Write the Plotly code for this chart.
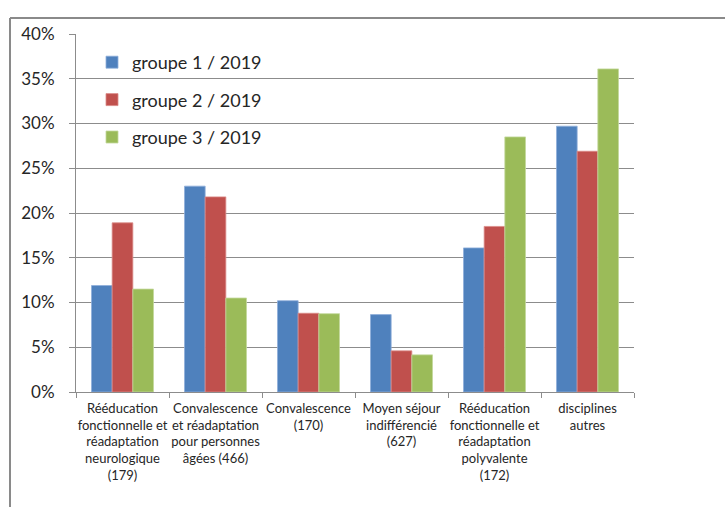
import plotly.graph_objects as go

# Categories (discipline and number of establishments) and their axis labels
categories = [
    "Rééducation fonctionnelle et réadaptation neurologique (179)",
    "Convalescence et réadaptation pour personnes âgées (466)",
    "Convalescence (170)",
    "Moyen séjour indifférencié (627)",
    "Rééducation fonctionnelle et réadaptation polyvalente (172)",
    "disciplines autres",
]
tick_labels = [
    "Rééducation<br>fonctionnelle et<br>réadaptation<br>neurologique<br>(179)",
    "Convalescence<br>et réadaptation<br>pour personnes<br>âgées (466)",
    "Convalescence<br>(170)",
    "Moyen séjour<br>indifférencié<br>(627)",
    "Rééducation<br>fonctionnelle et<br>réadaptation<br>polyvalente<br>(172)",
    "disciplines<br>autres",
]

series_names = ["groupe 1 / 2019", "groupe 2 / 2019", "groupe 3 / 2019"]
groupe1 = [0.119, 0.230, 0.102, 0.0865, 0.161, 0.297]
groupe2 = [0.189, 0.218, 0.088, 0.046, 0.185, 0.269]
groupe3 = [0.115, 0.105, 0.0875, 0.0415, 0.285, 0.361]

y_tick_values = [0.0, 0.05, 0.10, 0.15, 0.20, 0.25, 0.30, 0.35, 0.40]

colors = ["#4F81BD", "#C0504D", "#9BBB59"]
edge_colors = ["#8FAEDB", "#DA8A88", "#C3D89C"]

FONT = "Lato"
W, H = 725, 507
L, R, T, B = 76, 91, 34, 115

fig = go.Figure()
for i, (name, vals) in enumerate(zip(series_names, [groupe1, groupe2, groupe3])):
    fig.add_trace(go.Bar(
        x=categories,
        y=vals,
        name=name,
        legendgroup=f"g{i}",
        marker=dict(color=colors[i], line=dict(color=edge_colors[i], width=0.8)),
        hovertemplate="%{y:.1%}<extra>" + name + "</extra>",
    ))

plot_w = W - L - R
plot_h = H - T - B
# outer frame of the chart area (left and top edges)
fx = (10 - L) / plot_w
fy = 1 + (T - 18) / plot_h
fig.add_shape(type="line", xref="paper", yref="paper", x0=fx, x1=fx, y0=-1, y1=fy,
              line=dict(color="#8A8A8A", width=2))
fig.add_shape(type="line", xref="paper", yref="paper", x0=fx, x1=2, y0=fy, y1=fy,
              line=dict(color="#8A8A8A", width=2))

fig.update_layout(
    width=W, height=H,
    margin=dict(l=L, r=R, t=T, b=B),
    paper_bgcolor="white",
    plot_bgcolor="white",
    barmode="group",
    bargap=1/3,
    bargroupgap=0,
    font=dict(family=FONT, color="#262626"),
    legend=dict(
        x=(92 - L) / plot_w, y=1 - (44 - T) / plot_h,
        xanchor="left", yanchor="top",
        bgcolor="rgba(0,0,0,0)",
        font=dict(family=FONT, size=18, color="#262626"),
        tracegroupgap=11,
        itemwidth=30,
    ),
    xaxis=dict(
        tickmode="array",
        tickvals=categories,
        ticktext=tick_labels,
        tickson="boundaries",
        ticks="outside", ticklen=5, tickcolor="#8C8C8C",
        showline=True, linecolor="#8C8C8C", linewidth=1,
        showgrid=False,
        tickfont=dict(family=FONT, size=13, color="#262626"),
        tickangle=0,
        ticklabelstandoff=4,
    ),
    yaxis=dict(
        range=[0, 0.40],
        tickmode="array",
        tickvals=y_tick_values,
        tickformat=".0%",
        ticks="outside", ticklen=6, tickcolor="#8C8C8C",
        showline=True, linecolor="#8C8C8C", linewidth=1,
        showgrid=True, gridcolor="#8C8C8C", gridwidth=1,
        zeroline=False,
        tickfont=dict(family=FONT, size=17, color="#262626"),
        ticklabelstandoff=11,
    ),
)

fig.write_html("out.html")
